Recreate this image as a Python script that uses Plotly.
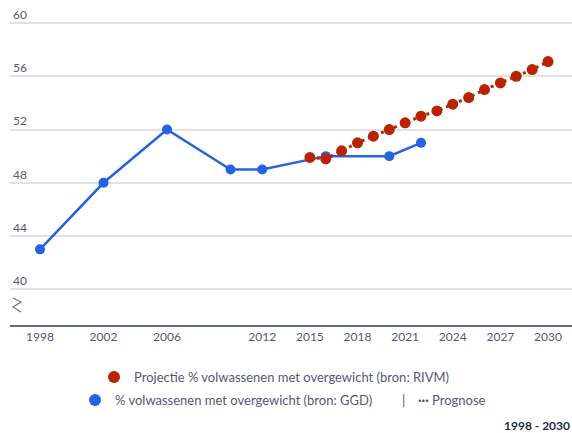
import plotly.graph_objects as go

# ---- data ----
ggd_years = [1998, 2002, 2006, 2010, 2012, 2016, 2020, 2022]
ggd_values = [43, 48, 52, 49, 49, 50, 50, 51]

rivm_years = list(range(2015, 2031))
rivm_values = [49.9, 49.8, 50.4, 51.0, 51.5, 52.0, 52.5, 53.0,
               53.4, 53.9, 54.4, 55.0, 55.5, 56.0, 56.5, 57.1]

x_ticks = [1998, 2002, 2006, 2012, 2015, 2018, 2021, 2024, 2027, 2030]
y_ticks = [40, 44, 48, 52, 56, 60]

ggd_name = "% volwassenen met overgewicht (bron: GGD)"
rivm_name = "Projectie % volwassenen met overgewicht (bron: RIVM)"

BLUE = "#2563e0"
RED = "#b82305"
TXT = "#55577a"
FONT = "Lato"

W, H = 572, 433
ML, MR, MT, MB = 10, 0, 4, 108
PW, PH = W - ML - MR, H - MT - MB
PXU = 13.32  # pixels per y unit
Y_BOTTOM = 40 - (H - MB - 289.3) / PXU
Y_TOP = 60 + (23 - MT) / PXU


def px(xp):
    return (xp - ML) / PW


def py(yp):
    return (H - MB - yp) / PH


fig = go.Figure()

fig.add_trace(go.Scatter(
    x=ggd_years, y=ggd_values, mode="lines+markers", name=ggd_name,
    line=dict(color=BLUE, width=2.5), marker=dict(color=BLUE, size=10),
    showlegend=False, legend="legend2"))

fig.add_trace(go.Scatter(
    x=rivm_years, y=rivm_values, mode="lines+markers", name=rivm_name,
    line=dict(color=RED, width=3, dash="3px,4px"),
    marker=dict(color=RED, size=11),
    showlegend=False, legend="legend"))

# legend entries (marker only)
fig.add_trace(go.Scatter(x=[None], y=[None], mode="markers", name=rivm_name,
                         marker=dict(color=RED, size=12), legend="legend"))
fig.add_trace(go.Scatter(x=[None], y=[None], mode="markers", name=ggd_name,
                         marker=dict(color=BLUE, size=12), legend="legend2"))

legend_common = dict(orientation="h", xanchor="left", yanchor="middle",
                     font=dict(family=FONT, size=13, color=TXT),
                     bgcolor="rgba(0,0,0,0)", itemclick=False,
                     itemdoubleclick=False)

fig.update_layout(
    width=W, height=H,
    margin=dict(l=ML, r=MR, t=MT, b=MB),
    paper_bgcolor="white", plot_bgcolor="white",
    font=dict(family=FONT, size=12, color=TXT),
    legend=dict(x=px(94), y=py(377), **legend_common),
    legend2=dict(x=px(75), y=py(400), **legend_common),
    xaxis=dict(range=[1996.11, 2031.51], tickvals=x_ticks,
               ticktext=[str(t) for t in x_ticks],
               showgrid=False, zeroline=False,
               showline=True, linecolor="#5d6b85", linewidth=2,
               ticks="", tickfont=dict(family=FONT, size=12, color=TXT),
               fixedrange=True),
    yaxis=dict(range=[Y_BOTTOM, Y_TOP], tickvals=y_ticks,
               showgrid=True, gridcolor="#dfe2e9", gridwidth=1.5,
               zeroline=False, showline=False, ticks="",
               ticklabelposition="inside top",
               tickfont=dict(family=FONT, size=12, color=TXT),
               fixedrange=True),
)

# axis break symbol
pts = [(13, 298), (21, 302), (13, 307), (21, 312)]
path = "M " + " L ".join(f"{px(a):.4f},{py(b):.4f}" for a, b in pts)
fig.add_shape(type="path", path=path, xref="paper", yref="paper",
              line=dict(color="#6b7590", width=1.2))

fig.add_annotation(text="|", x=px(403), y=py(400), xref="paper", yref="paper",
                   showarrow=False, xanchor="center", yanchor="middle",
                   font=dict(family=FONT, size=13, color=TXT))
fig.add_annotation(text="<b>···</b> Prognose", x=px(416), y=py(400),
                   xref="paper", yref="paper", showarrow=False,
                   xanchor="left", yanchor="middle",
                   font=dict(family=FONT, size=13, color=TXT))
fig.add_annotation(text="<b>1998 - 2030</b>", x=1, y=py(425), xref="paper",
                   yref="paper", showarrow=False, xanchor="right",
                   yanchor="middle",
                   font=dict(family=FONT, size=12, color="#1f2b4d"))

fig.write_html("out.html",
               config={"displayModeBar": False},
               post_script="document.body.style.margin='0';"
                           "document.body.style.overflow='hidden';")
